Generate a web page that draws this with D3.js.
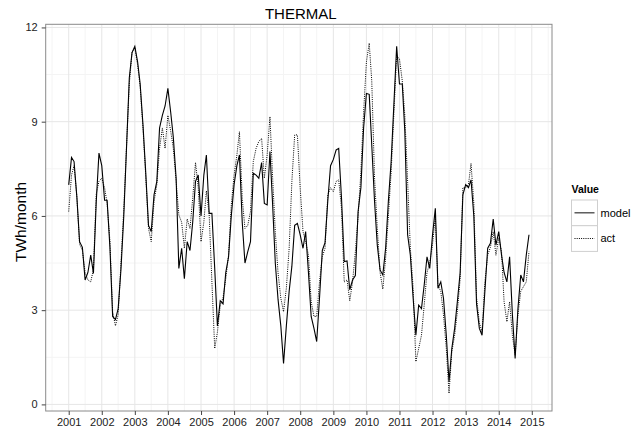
<!DOCTYPE html>
<html>
<head>
<meta charset="utf-8">
<script src="https://cdn.jsdelivr.net/npm/d3@7"></script>
<style>
  body { margin: 0; background: #fff; }
  text { font-family: "Liberation Sans", Arial, Helvetica, sans-serif; }
</style>
</head>
<body>
<script>
const width = 633;
const height = 431;

// monthly values, Jan 2001 .. Dec 2014 (one row per year)
const model = [
  6.99, 7.86, 7.73, 6.6, 5.18, 5.0, 3.96, 4.2, 4.75, 4.17, 6.45, 8.0,
  7.6, 6.5, 6.5, 5.0, 2.8, 2.7, 3.05, 4.3, 6.0, 8.15, 10.4, 11.2,
  11.4, 10.9, 10.2, 8.9, 7.4, 5.7, 5.5, 6.67, 7.1, 8.8, 9.2, 9.5,
  10.06, 9.3, 8.5, 7.2, 4.33, 4.97, 4.0, 5.18, 4.9, 5.8, 7.1, 7.3,
  6.0, 7.3, 7.94, 6.08, 6.08, 4.33, 2.5, 3.3, 3.2, 4.2, 4.7, 6.0,
  7.0, 7.6, 7.94, 5.8, 4.5, 4.86, 5.18, 7.36, 7.3, 7.2, 7.7, 6.4,
  6.35, 8.05, 6.45, 4.5, 3.35, 2.5, 1.3, 2.5, 3.6, 4.4, 5.7, 5.76,
  5.4, 4.97, 5.5, 4.2, 2.8, 2.42, 2.0, 3.38, 4.9, 5.15, 6.5, 7.6,
  7.8, 8.1, 8.15, 6.56, 4.55, 4.57, 3.65, 3.96, 4.1, 6.14, 6.9, 8.8,
  9.9, 9.87, 8.26, 6.45, 5.07, 4.28, 4.12, 4.97, 6.5, 7.73, 9.6, 11.4,
  10.2, 10.2, 8.7, 5.4, 4.75, 3.38, 2.2, 3.16, 3.05, 3.8, 4.7, 4.33,
  5.4, 6.24, 3.7, 3.9, 3.38, 2.2, 0.72, 1.78, 2.42, 3.27, 4.2, 6.67,
  7.0, 6.9, 7.15, 6.0, 3.2, 2.42, 2.2, 3.6, 4.97, 5.13, 5.9, 5.07,
  5.5, 4.75, 4.2, 3.9, 4.7, 2.85, 1.46, 3.05, 4.12, 3.9, 4.75, 5.4
];
const act = [
  6.14, 7.3, 7.6, 6.6, 5.1, 4.9, 4.2, 3.96, 3.9, 4.3, 6.7, 7.1,
  7.2, 6.9, 6.4, 5.2, 2.95, 2.5, 2.85, 4.5, 6.2, 8.2, 10.2, 11.2,
  11.35, 10.8, 10.1, 8.8, 7.3, 5.6, 5.18, 6.45, 7.0, 8.15, 8.8, 8.15,
  9.2, 8.7, 8.15, 7.1, 6.03, 5.8, 4.97, 5.9, 5.6, 6.56, 7.7, 6.9,
  5.18, 5.8, 6.8, 6.03, 3.9, 1.78, 2.3, 3.16, 3.4, 4.0, 4.75, 6.35,
  7.3, 7.94, 8.68, 6.56, 5.6, 5.7, 6.14, 7.73, 8.15, 8.37, 8.47, 7.2,
  7.94, 9.16, 7.3, 5.5, 4.2, 3.38, 2.95, 3.7, 4.97, 7.1, 8.58, 8.58,
  6.88, 5.5, 5.18, 4.75, 3.27, 2.8, 2.8, 3.9, 4.7, 4.97, 6.67, 6.9,
  6.77, 7.1, 7.15, 6.24, 3.9, 3.96, 3.3, 3.9, 4.86, 5.98, 7.4, 9.3,
  10.9, 11.5, 10.3, 7.2, 5.6, 4.2, 3.67, 4.65, 6.03, 7.4, 9.3, 11.1,
  11.0, 10.3, 9.2, 7.1, 4.97, 3.7, 1.36, 1.78, 2.2, 3.16, 4.2, 4.5,
  5.1, 6.0, 3.8, 3.6, 2.85, 1.78, 0.35, 1.68, 2.2, 2.95, 4.0, 6.9,
  6.9, 7.0, 7.67, 6.4, 3.4, 2.6, 2.3, 3.9, 4.75, 5.0, 5.5, 4.75,
  5.3, 4.86, 3.27, 2.63, 3.27, 2.2, 1.57, 2.85, 3.6, 3.75, 3.9, 4.86
];
const seriesNames = ['model', 'act'];
const yTicks = [0, 3, 6, 9, 12];
const yMinor = [1.5, 4.5, 7.5, 10.5];
const xYears = d3.range(2001, 2016);

const months = d3.utcMonth.range(new Date(Date.UTC(2001, 0, 1)), new Date(Date.UTC(2015, 0, 1)));

const panel = {left: 45.7, right: 552, top: 24.3, bottom: 411};

const svg = d3.select('body').append('svg').attr('width', width).attr('height', height);

const t0 = months[0], t1 = months[months.length - 1];
const pad = (t1 - t0) * 0.05;
const x = d3.scaleUtc()
  .domain([new Date(+t0 - pad), new Date(+t1 + pad)])
  .range([panel.left, panel.right]);
const y = d3.scaleLinear().domain([-0.21, 12.1]).range([panel.bottom, panel.top]);

// panel + grid
const g = svg.append('g');
g.append('rect')
  .attr('x', panel.left).attr('y', panel.top)
  .attr('width', panel.right - panel.left).attr('height', panel.bottom - panel.top)
  .attr('fill', '#fff');

const xMinor = d3.range(2000, 2016).map(yr => new Date(Date.UTC(yr, 6, 1)))
  .filter(d => x(d) > panel.left && x(d) < panel.right);

g.selectAll('.ymin').data(yMinor).enter().append('line')
  .attr('x1', panel.left).attr('x2', panel.right)
  .attr('y1', d => y(d)).attr('y2', d => y(d))
  .attr('stroke', '#f4f4f4').attr('stroke-width', 1);
g.selectAll('.xmin').data(xMinor).enter().append('line')
  .attr('y1', panel.top).attr('y2', panel.bottom)
  .attr('x1', d => x(d)).attr('x2', d => x(d))
  .attr('stroke', '#f4f4f4').attr('stroke-width', 1);
g.selectAll('.ymaj').data(yTicks).enter().append('line')
  .attr('x1', panel.left).attr('x2', panel.right)
  .attr('y1', d => y(d)).attr('y2', d => y(d))
  .attr('stroke', '#e6e6e6').attr('stroke-width', 1);
g.selectAll('.xmaj').data(xYears).enter().append('line')
  .attr('y1', panel.top).attr('y2', panel.bottom)
  .attr('x1', d => x(new Date(Date.UTC(d, 0, 1)))).attr('x2', d => x(new Date(Date.UTC(d, 0, 1))))
  .attr('stroke', '#e6e6e6').attr('stroke-width', 1);

// lines
const lineGen = vals => d3.line()
  .x((d, i) => x(months[i]))
  .y(d => y(d))(vals);

g.append('path').attr('d', lineGen(act))
  .attr('fill', 'none').attr('stroke', '#000').attr('stroke-width', 1)
  .attr('stroke-dasharray', '1,1.2');
g.append('path').attr('d', lineGen(model))
  .attr('fill', 'none').attr('stroke', '#000').attr('stroke-width', 1.1);

g.append('rect')
  .attr('x', panel.left).attr('y', panel.top)
  .attr('width', panel.right - panel.left).attr('height', panel.bottom - panel.top)
  .attr('fill', 'none').attr('stroke', '#8a8a8a').attr('stroke-width', 1);

// axes
const xAxis = d3.axisBottom(x)
  .tickValues(xYears.map(yr => new Date(Date.UTC(yr, 0, 1))))
  .tickFormat(d3.utcFormat('%Y'))
  .tickSize(4).tickPadding(3);
const gx = svg.append('g').attr('transform', `translate(0,${panel.bottom})`).call(xAxis);
const yAxis = d3.axisLeft(y).tickValues(yTicks).tickSize(4).tickPadding(4);
const gy = svg.append('g').attr('transform', `translate(${panel.left},0)`).call(yAxis);

[gx, gy].forEach(ax => {
  ax.select('.domain').remove();
  ax.selectAll('.tick line').attr('stroke', '#444');
  ax.selectAll('.tick text')
    .attr('fill', '#222')
    .style('font-size', '11px')
    .style('font-family', '"Liberation Sans", Arial, sans-serif');
});

// titles
svg.append('text')
  .attr('x', 300.8).attr('y', 19)
  .attr('text-anchor', 'middle')
  .style('font-size', '15px')
  .text('THERMAL');

svg.append('text')
  .attr('transform', 'translate(26,222) rotate(-90)')
  .attr('text-anchor', 'middle')
  .style('font-size', '15.5px')
  .text('TWh/month');

// legend
const leg = svg.append('g').attr('transform', 'translate(571.5,0)');
leg.append('text')
  .attr('x', 0).attr('y', 193.3)
  .style('font-size', '10.5px').style('font-weight', 'bold')
  .text('Value');

const keys = leg.selectAll('.key').data(seriesNames).enter().append('g')
  .attr('transform', (d, i) => `translate(0,${200 + i * 25.7})`);
keys.append('rect')
  .attr('width', 26).attr('height', 25.7)
  .attr('fill', '#fff').attr('stroke', '#cfcfcf').attr('stroke-width', 1);
keys.append('line')
  .attr('x1', 3).attr('x2', 23).attr('y1', 12.8).attr('y2', 12.8)
  .attr('stroke', d => d === 'model' ? '#444' : '#000')
  .attr('stroke-width', d => d === 'model' ? 1.3 : 1)
  .attr('stroke-dasharray', d => d === 'model' ? null : '1,1.2');
keys.append('text')
  .attr('x', 29).attr('y', 12.8).attr('dy', '0.35em')
  .style('font-size', '11px')
  .text(d => d);
</script>
</body>
</html>
